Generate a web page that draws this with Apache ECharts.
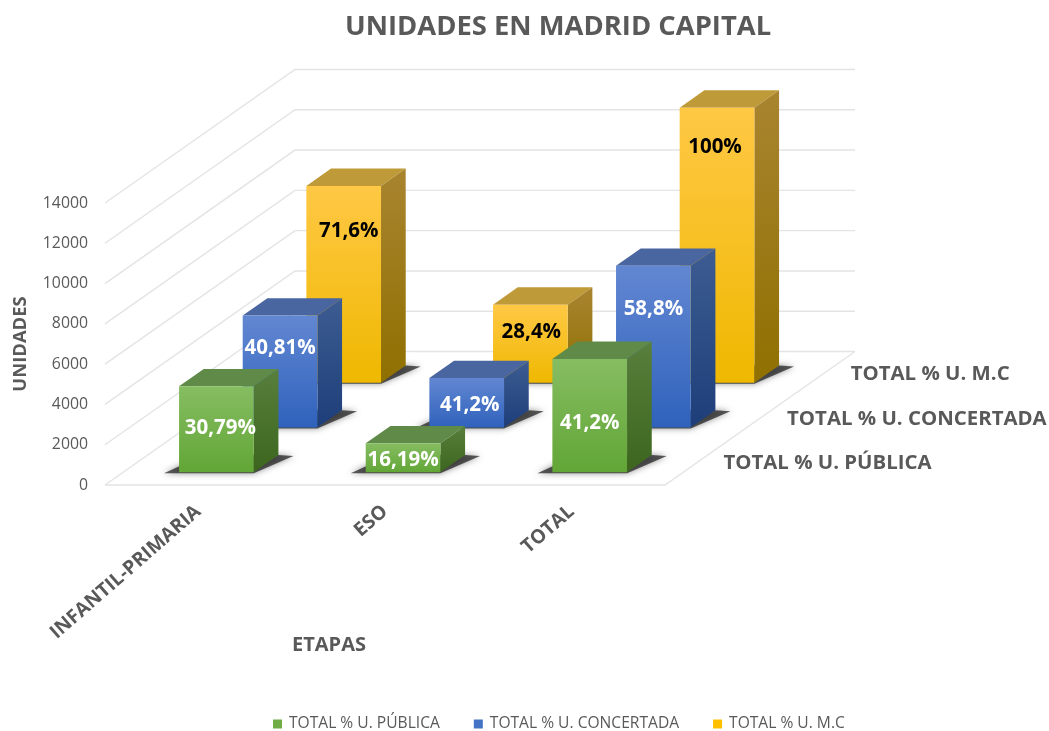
<!DOCTYPE html>
<html><head><meta charset="utf-8">
<style>html,body{margin:0;padding:0;background:#fff}#c{width:1049px;height:731px;filter:blur(0.4px)}</style>
<script src="https://cdn.jsdelivr.net/npm/echarts@6/dist/echarts.min.js"></script>
</head><body><div id="c"></div>
<script>
const categories = ['INFANTIL-PRIMARIA', 'ESO', 'TOTAL'];
const yTicks = [0, 2000, 4000, 6000, 8000, 10000, 12000, 14000];
const publica = [4270, 1440, 5630];
const concertada = [5560, 2460, 8030];
const mc = [9780, 3880, 13660];
const publicaLabels = ['30,79%', '16,19%', '41,2%'];
const concertadaLabels = ['40,81%', '41,2%', '58,8%'];
const mcLabels = ['71,6%', '28,4%', '100%'];
const seriesNames = ['TOTAL % U. PÚBLICA', 'TOTAL % U. CONCERTADA', 'TOTAL % U. M.C'];

// oblique projection of the depth axis (pixels for full depth)
const DX = 190, DY = 133.5;
const BAR_DEPTH = 0.13, BAR_WIDTH = 0.4;
const FONT = '"Open Sans", sans-serif';
const GREY = '#595959';

const grad = (a, b) => new echarts.graphic.LinearGradient(0, 0, 0, 1, [{offset:0,color:a},{offset:1,color:b}]);
const poly = (points, fill, extra) => Object.assign({type:'polygon', shape:{points}, style:{fill}}, extra||{});

const looks = [
  {d:0.095, front:['#86BD62','#62A636'], side:['#587F3C','#3C661E'], top:'#5F8A48', text:'#FFFFFF', labels:publicaLabels,
   nudge:[[4,42],[0,17],[0,64]]},
  {d:0.43, front:['#6287D2','#2F62BC'], side:['#3C5C92','#1E3E7A'], top:'#4A66A0', text:'#FFFFFF', labels:concertadaLabels,
   nudge:[[0,33],[3,27],[0,43]]},
  {d:0.765, front:['#FFC845','#EFB800'], side:['#A98430','#8F7000'], top:'#BF9A38', text:'#000000', labels:mcLabels,
   nudge:[[5,45],[1,27],[-2,39]]}
];

function barRenderer(look) {
  return function (params, api) {
    const i = api.value(0), v = api.value(1);
    const w = api.size([1, 0])[0] * BAR_WIDTH;
    const base = api.coord([i, 0]), topP = api.coord([i, v]);
    const ox = look.d * DX, oy = -look.d * DY;
    const x0 = base[0] - w / 2 + ox, x1 = x0 + w;
    const yb = base[1] + oy, yt = topP[1] + oy;
    const bx = BAR_DEPTH * DX, by = -BAR_DEPTH * DY;
    const n = look.nudge[params.dataIndex];
    const sh = 'rgba(30,30,30,0.72)';
    return {type:'group', children:[
      poly([[x0-15,yb+1],[x1,yb+1],[x1+bx+15,yb+by+1],[x1+bx,yb+by],[x0+bx,yb+by]], sh,
        {style:{fill:sh, shadowBlur:6, shadowColor:'rgba(0,0,0,0.6)'}}),
      poly([[x0,yt],[x1,yt],[x1+bx,yt+by],[x0+bx,yt+by]], look.top),
      poly([[x1,yt],[x1+bx,yt+by],[x1+bx,yb+by],[x1,yb]], grad(look.side[0], look.side[1])),
      poly([[x0,yt],[x1,yt],[x1,yb],[x0,yb]], grad(look.front[0], look.front[1])),
      {type:'text', z2:10, style:{x:(x0+x1)/2+n[0], y:yt+n[1], text:look.labels[params.dataIndex],
        fill:look.text, font:'bold 20.5px "Open Sans", sans-serif', textAlign:'center', textVerticalAlign:'middle'}}
    ]};
  };
}

function wallRenderer(params, api) {
  const v = api.value(0);
  const half = api.size([1, 0])[0] / 2;
  const first = api.coord([0, v]), last = api.coord([categories.length - 1, v]);
  const a = [first[0] - half, first[1]], r = [last[0] + half, last[1]];
  const back = [a[0]+DX, a[1]-DY], backR = [r[0]+DX, r[1]-DY];
  const line = {stroke:'#E4E4E4', lineWidth:1.4, fill:'none'};
  const kids = [{type:'polyline', shape:{points:[a, back, backR]}, style:line}];
  if (v === 0) kids.push({type:'polyline', shape:{points:[a, r, backR]}, style:line});
  return {type:'group', children:kids};
}

function depthLabelRenderer(params, api) {
  const row = api.value(0);
  const look = looks[row];
  const half = api.size([1, 0])[0] / 2;
  const r = api.coord([categories.length - 1, 0]);
  const d = look.d + BAR_DEPTH / 2;
  return {type:'text', style:{x:r[0]+half+d*DX+28, y:r[1]-d*DY, text:seriesNames[row], fill:GREY,
    font:'bold 20.4px '+FONT, textAlign:'left', textVerticalAlign:'middle'}};
}

const rows = (vals) => vals.map((v, i) => [i, v]);
const chart = echarts.init(document.getElementById('c'), null, {renderer:'canvas'});
chart.setOption({
  animation:false,
  backgroundColor:'#fff',
  title:{text:'UNIDADES EN MADRID CAPITAL', left:345, top:14, padding:0, itemGap:0,
    textStyle:{color:GREY, fontFamily:FONT, fontWeight:'bold', fontSize:27.4}},
  legend:{left:273, top:716, padding:0, itemWidth:9, itemHeight:9, itemGap:34,
    icon:'rect', data:seriesNames, selectedMode:false,
    textStyle:{color:GREY, fontFamily:FONT, fontSize:15.6, padding:[0,0,0,2]}},
  grid:{left:105, right:384, top:203, bottom:246, outerBoundsMode:'none'},
  xAxis:{type:'category', data:categories, boundaryGap:true,
    axisLine:{show:false}, axisTick:{show:false}, splitLine:{show:false},
    axisLabel:{rotate:41, margin:24, color:GREY, fontFamily:FONT, fontWeight:'bold', fontSize:19.4},
    name:'ETAPAS', nameLocation:'middle', nameGap:150, nameMoveOverlap:false,
    nameTextStyle:{color:GREY, fontFamily:FONT, fontWeight:'bold', fontSize:20, padding:[0,112,0,0]}},
  yAxis:{type:'value', min:0, max:14000, interval:2000,
    axisLine:{show:false}, axisTick:{show:false}, splitLine:{show:false},
    axisLabel:{margin:17, color:GREY, fontFamily:FONT, fontSize:15.8, formatter:v=>String(v)},
    name:'UNIDADES', nameLocation:'middle', nameGap:75, nameRotate:90, nameMoveOverlap:false,
    nameTextStyle:{color:GREY, fontFamily:FONT, fontWeight:'bold', fontSize:18.4}},
  series:[
    {type:'custom', name:'walls', silent:true, z:0, coordinateSystem:'cartesian2d', renderItem:wallRenderer,
     data:yTicks.map(v=>[v]), clip:false},
    {type:'custom', name:'depth', silent:true, z:0, coordinateSystem:'cartesian2d', renderItem:depthLabelRenderer,
     data:[[0],[1],[2]], clip:false},
    {type:'custom', name:seriesNames[2], z:2, itemStyle:{color:'#FFC000'}, renderItem:barRenderer(looks[2]),
     data:rows(mc), encode:{x:0,y:1}, clip:false},
    {type:'custom', name:seriesNames[1], z:3, itemStyle:{color:'#4472C4'}, renderItem:barRenderer(looks[1]),
     data:rows(concertada), encode:{x:0,y:1}, clip:false},
    {type:'custom', name:seriesNames[0], z:4, itemStyle:{color:'#70AD47'}, renderItem:barRenderer(looks[0]),
     data:rows(publica), encode:{x:0,y:1}, clip:false}
  ]
});
</script></body></html>
